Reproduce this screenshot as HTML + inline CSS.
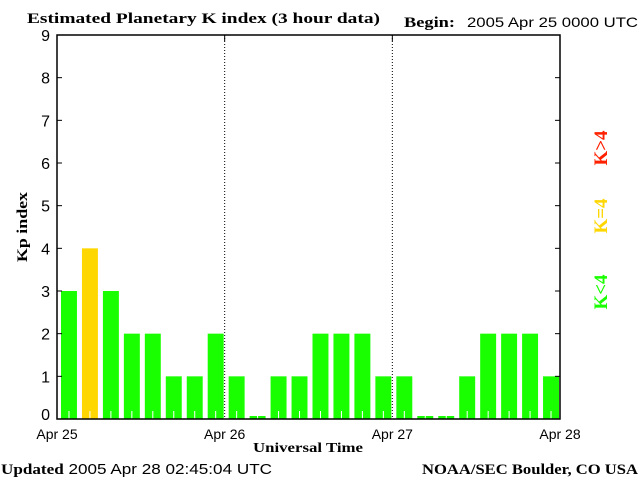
<!DOCTYPE html>
<html><head><meta charset="utf-8"><style>
body{margin:0;background:#fff;}
svg text{font-family:"Liberation Sans",sans-serif;}
.serif{font-family:"Liberation Serif",serif;font-weight:bold;}
</style></head><body>
<svg id="chart" width="640" height="480" xmlns="http://www.w3.org/2000/svg">
<rect width="640" height="480" fill="#fff"/>
<text class="serif" x="27" y="23" font-size="15" textLength="353" lengthAdjust="spacingAndGlyphs">Estimated Planetary K index (3 hour data)</text>
<text class="serif" x="404" y="27" font-size="15" textLength="51" lengthAdjust="spacingAndGlyphs">Begin:</text>
<text x="467" y="27" font-size="14" textLength="171" lengthAdjust="spacingAndGlyphs">2005 Apr 25 0000 UTC</text>
<text class="serif" transform="translate(27,227) rotate(-90)" text-anchor="middle" font-size="15" textLength="70" lengthAdjust="spacingAndGlyphs">Kp index</text>
<text class="serif" x="253" y="452" font-size="14" textLength="110" lengthAdjust="spacingAndGlyphs">Universal Time</text>
<text x="1" y="474" font-size="15" textLength="271" lengthAdjust="spacingAndGlyphs"><tspan class="serif">Updated</tspan> 2005 Apr 28 02:45:04 UTC</text>
<text class="serif" x="422" y="474" font-size="15" textLength="216" lengthAdjust="spacingAndGlyphs">NOAA/SEC Boulder, CO USA</text>
<text class="serif" transform="translate(607,148) rotate(-90)" text-anchor="middle" font-size="19" fill="#ff2000">K&gt;4</text>
<text class="serif" transform="translate(607,216) rotate(-90)" text-anchor="middle" font-size="19" fill="#ffd700">K=4</text>
<text class="serif" transform="translate(607,292) rotate(-90)" text-anchor="middle" font-size="19" fill="#1aff00">K&lt;4</text>
<g id="plot"></g>
</svg>
<script>
const kpValues = [3,4,3,2,2,1,1,2, 1,0,1,1,2,2,2,1, 1,0,0,1,2,2,2,1];
const yTicks = [0,1,2,3,4,5,6,7,8,9];
const dayLabels = ["Apr 25","Apr 26","Apr 27","Apr 28"];
const L=57,R=560,T=35,B=419;
const ys=v=>B-(v/9)*(B-T);
const slot=(R-L)/kpValues.length;
const xs=i=>L+i*slot;
const g=document.getElementById('plot');
const NS="http://www.w3.org/2000/svg";
function mk(t,a){const e=document.createElementNS(NS,t);for(const k in a)e.setAttribute(k,a[k]);g.appendChild(e);return e;}
kpValues.forEach((v,i)=>{
  const x=xs(i)+4,w=slot-5;
  const top=v===0?B-3:ys(v);
  const col=v>4?"#ff2000":(v===4?"#ffd700":"#1aff00");
  const r=mk('rect',{x:x,y:top,width:w,height:B-top,fill:col});
  
  
  const l=mk('line',{x1:x+w/2,x2:x+w/2,y1:Math.max(top,B-8),y2:B,stroke:"#fff","stroke-width":1});
  
  
});
for(let d=1;d<dayLabels.length-1;d++){
  const x=L+d*(R-L)/(dayLabels.length-1);
  const l=mk('line',{x1:x,x2:x,y1:T,y2:B,stroke:"#000","stroke-dasharray":"1,2"});
  
  
  mk('line',{x1:x,x2:x,y1:T,y2:T+6,stroke:"#000"});
}
dayLabels.forEach((s,d)=>{
  const x=L+d*(R-L)/(dayLabels.length-1);
  const t=mk('text',{x:x,y:439,"text-anchor":"middle","font-size":"14"});
  t.textContent=s;
  
  
});
yTicks.forEach(v=>{
  const y=ys(v);
  mk('line',{x1:L,x2:L+5,y1:y,y2:y,stroke:"#000"});
  mk('line',{x1:R-5,x2:R,y1:y,y2:y,stroke:"#000"});
  const t=mk('text',{x:50,y:(v===0?y+1:y+6),"text-anchor":"end","font-size":"16"});
  t.textContent=v;
  
  
});
const f=mk('rect',{x:L,y:T,width:R-L,height:B-T,fill:"none",stroke:"#000","stroke-width":1.5});


</script>
</body></html>
